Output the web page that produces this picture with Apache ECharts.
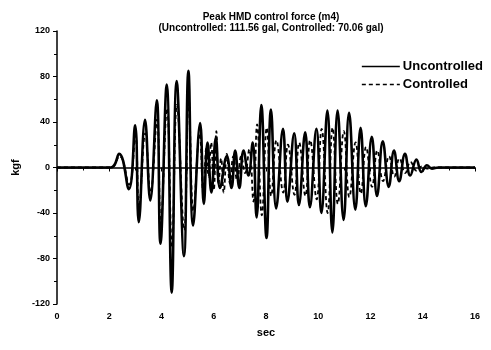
<!DOCTYPE html>
<html>
<head>
<meta charset="utf-8">
<script src="https://cdn.jsdelivr.net/npm/echarts@6/dist/echarts.min.js"></script>
<style>
  html, body { margin: 0; padding: 0; background: #fff; }
  #chart { width: 491px; height: 350px; }
</style>
</head>
<body>
<div id="chart"></div>
<script>
// peaks and troughs: [sec, kgf]
var uncontrolled = [
  [0, 0], [2.05, 0], [2.38, 12], [2.75, -19], [2.99, 37], [3.13, -48], [3.37, 42], [3.57, -29],
  [3.82, 59], [3.96, -67], [4.2, 73], [4.39, -110], [4.58, 76], [4.86, -78], [5.03, 85], [5.21, -51],
  [5.48, 39], [5.62, -32], [5.76, 22], [5.91, -22], [6.08, 26], [6.24, -18], [6.5, 10], [6.68, -18],
  [6.82, 15], [6.98, -18], [7.14, 15], [7.33, -7], [7.49, 22], [7.64, -44], [7.82, 55], [8.02, -62],
  [8.19, 51], [8.39, -36], [8.65, 34], [8.82, -30], [9.08, 30], [9.26, -33], [9.5, 31], [9.68, -35],
  [9.93, 34], [10.12, -40], [10.35, 50], [10.54, -57], [10.74, 50], [10.97, -46], [11.18, 48], [11.42, -37],
  [11.62, 35], [11.82, -34], [12.05, 27], [12.25, -25], [12.47, 23], [12.7, -17], [12.9, 15], [13.1, -12],
  [13.32, 12], [13.52, -7], [13.76, 7], [13.95, -4], [14.16, 2], [14.35, -1], [14.6, 0], [16, 0]
];

var controlled = [
  [0, 0], [2.05, 0], [2.39, 10], [2.76, -15], [3.0, 28], [3.14, -35], [3.38, 30], [3.58, -22],
  [3.83, 42], [3.97, -50], [4.21, 52], [4.4, -70], [4.59, 55], [4.87, -55], [5.04, 60], [5.22, -38],
  [5.46, 30], [5.6, -22], [5.72, 18], [5.8, -8], [5.9, 22], [6.0, -20], [6.1, 32], [6.18, -15],
  [6.28, 8], [6.38, -22], [6.5, 12], [6.62, -14], [6.75, 10], [6.9, -12], [7.05, 10], [7.2, -5],
  [7.36, 16], [7.52, -30], [7.66, 38], [7.84, -42], [8.03, 35], [8.2, -25], [8.4, 24], [8.66, -22],
  [8.84, 20], [9.09, -24], [9.27, 22], [9.51, -25], [9.69, 24], [9.94, -28], [10.13, 34], [10.36, -40],
  [10.55, 35], [10.75, -32], [10.98, 32], [11.19, -26], [11.43, 22], [11.63, -23], [11.83, 18], [12.06, -17],
  [12.26, 15], [12.48, -12], [12.71, 10], [12.91, -8], [13.11, 8], [13.33, -5], [13.53, 5], [13.77, -3],
  [13.96, 1], [14.17, -1], [14.4, 0], [16, 0]
];

var titleLines = ['Peak HMD control force (m4)', '(Uncontrolled: 111.56 gal, Controlled: 70.06 gal)'];

var FONT = '"Liberation Sans", Arial, sans-serif';

document.addEventListener("DOMContentLoaded", () => {
  echarts.init(document.querySelector("#chart")).setOption({
    animation: false,
    title: {
      text: titleLines.join('\n'),
      left: 266,
      top: 7,
      textAlign: 'center',
      textStyle: { fontFamily: FONT, fontSize: 10, fontWeight: 'bold', color: '#000', lineHeight: 11 }
    },
    legend: {
      orient: 'vertical',
      right: 3,
      top: 55,
      itemWidth: 38,
      itemHeight: 10,
      itemGap: 5,
      itemStyle: { opacity: 0 },
      lineStyle: { width: 1.6 },
      textStyle: { fontFamily: FONT, fontSize: 13, fontWeight: 'bold', color: '#000', padding: [0, 0, 0, -2] },
      data: ['Uncontrolled', 'Controlled']
    },
    grid: { left: 57, right: 16, top: 31, bottom: 46 },
    xAxis: {
      type: 'value',
      min: 0,
      max: 16,
      interval: 2,
      name: 'sec',
      nameLocation: 'middle',
      nameGap: 23,
      nameTextStyle: { fontFamily: FONT, fontSize: 11, fontWeight: 'bold', color: '#000' },
      axisLine: { lineStyle: { color: '#000', width: 1.5 } },
      axisTick: { inside: false, length: 4, lineStyle: { color: '#000' } },
      minorTick: { show: true, splitNumber: 2, length: 3, lineStyle: { color: '#000' } },
      axisLabel: { fontFamily: FONT, fontSize: 9, fontWeight: 'bold', color: '#000', margin: 8 },
      splitLine: { show: false }
    },
    yAxis: {
      type: 'value',
      min: -120,
      max: 120,
      interval: 40,
      name: 'kgf',
      nameLocation: 'middle',
      nameRotate: 90,
      nameGap: 27,
      nameTextStyle: { fontFamily: FONT, fontSize: 11, fontWeight: 'bold', color: '#000' },
      axisLine: { show: true, lineStyle: { color: '#000', width: 1.5 } },
      axisTick: { show: true, inside: false, length: 4, lineStyle: { color: '#000' } },
      minorTick: { show: true, splitNumber: 2, length: 3, lineStyle: { color: '#000' } },
      axisLabel: { fontFamily: FONT, fontSize: 9, fontWeight: 'bold', color: '#000', margin: 7 },
      splitLine: { show: false }
    },
    series: [{
      name: 'Uncontrolled',
      type: 'line',
      data: uncontrolled,
      symbol: 'none',
      smooth: 0.45,
      lineStyle: { color: '#000', width: 2.6 },
      itemStyle: { color: '#000' }
    }, {
      name: 'Controlled',
      type: 'line',
      data: controlled,
      symbol: 'none',
      smooth: 0.45,
      lineStyle: { color: '#000', width: 1.8, type: [4, 3] },
      itemStyle: { color: '#000' }
    }]
  });
});
</script>
</body>
</html>
